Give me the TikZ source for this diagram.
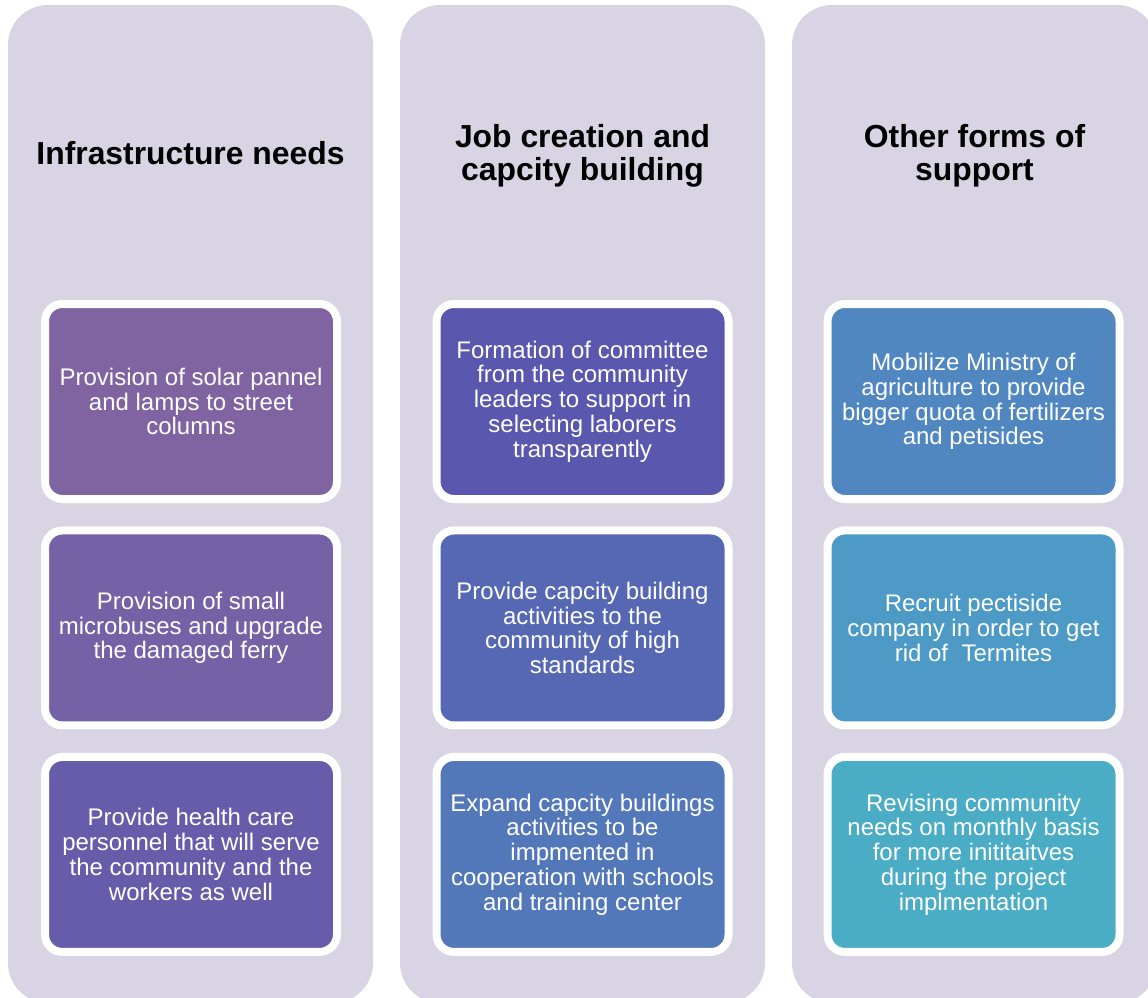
\documentclass[tikz,border=0pt]{standalone}
\usepackage{fontspec}
\setmainfont{Liberation Sans}
\usetikzlibrary{positioning,shadows}

\definecolor{colbg}{HTML}{D8D4E3}
\definecolor{itemA}{HTML}{8064A2}
\definecolor{itemB}{HTML}{7461A6}
\definecolor{itemC}{HTML}{675CAA}
\definecolor{itemD}{HTML}{5A57AE}
\definecolor{itemE}{HTML}{5667B3}
\definecolor{itemF}{HTML}{5378BA}
\definecolor{itemG}{HTML}{5087C0}
\definecolor{itemH}{HTML}{4C9AC5}
\definecolor{itemI}{HTML}{4BACC6}

\tikzset{
  column/.style={fill=colbg, rounded corners=30pt, minimum width=273.75pt, minimum height=748.5pt, inner sep=0pt},
  heading/.style={font=\fontsize{23.9}{24.8}\selectfont\bfseries, align=center, text=black},
  item/.style={draw=white, line width=6pt, rounded corners=13pt, minimum width=219pt, minimum height=146.25pt,
    text=white, align=center, font=\fontsize{18}{18.6}\selectfont,
    drop shadow={shadow xshift=1.2pt, shadow yshift=-2.8pt, opacity=0.35, fill=black!70}},
  node distance=17.6pt
}

\begin{document}
\begin{tikzpicture}[x=0.75pt, y=-0.75pt]
\useasboundingbox (0,0) rectangle (1148,997);
\clip (0,0) rectangle (1148,997);
% Columns
\node[column] (infra) at (190.5,504) {};
\node[column] (jobs) at (582.5,504) {};
\node[column] (other) at (974.5,504) {};
% Headings
\node[heading] (infratitle) at (190.5,153) {Infrastructure needs};
\node[heading] (jobstitle) at (582.5,156) {Job creation and\\capcity building};
\node[heading] (othertitle) at (974.5,156) {Other forms of\\support};
% Infrastructure items
\node[item, fill=itemA] (solar) at (191,401.5) {Provision of solar pannel\\and lamps to street\\columns};
\node[item, fill=itemB, below=of solar] (buses) {Provision of small\\microbuses and upgrade\\the damaged ferry};
\node[item, fill=itemC, below=of buses] (health) {Provide health care\\personnel that will serve\\the community and the\\workers as well};
% Job creation items
\node[item, fill=itemD] (committee) at (582.5,401.5) {Formation of committee\\from the community\\leaders to support in\\selecting laborers\\transparently};
\node[item, fill=itemE, below=of committee] (capacity) {Provide capcity building\\activities to the\\community of high\\standards};
\node[item, fill=itemF, below=of capacity] (expand) {Expand capcity buildings\\activities to be\\impmented in\\cooperation with schools\\and training center};
% Other support items
\node[item, fill=itemG] (ministry) at (973.5,401.5) {Mobilize Ministry of\\agriculture to provide\\bigger quota of fertilizers\\and petisides};
\node[item, fill=itemH, below=of ministry] (termites) {Recruit pectiside\\company in order to get\\rid of\ \ Termites};
\node[item, fill=itemI, below=of termites] (revise) {Revising community\\needs on monthly basis\\for more inititaitves\\during the project\\implmentation};
\end{tikzpicture}
\end{document}
